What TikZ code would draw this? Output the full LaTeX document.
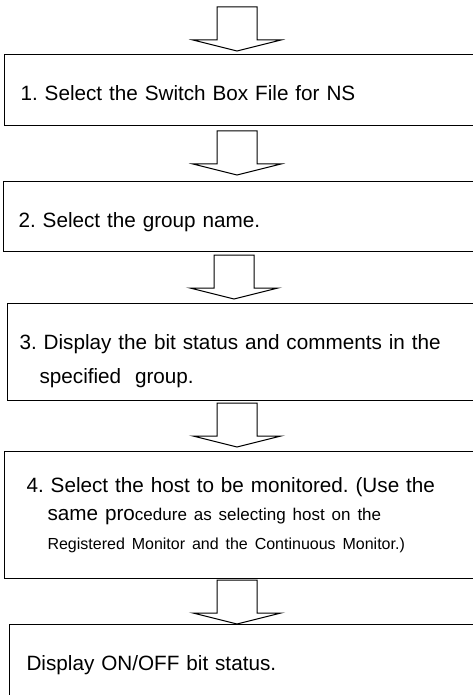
\documentclass[tikz,border=0pt]{standalone}
\usepackage{fontspec}
\setmainfont{Liberation Sans}
\usetikzlibrary{positioning}
\frenchspacing

\newcommand{\bigtxt}{\fontsize{20.7}{34.5}\selectfont}
\newcommand{\tighttxt}{\fontsize{20.7}{28.5}\selectfont}
\newcommand{\midtxt}{\fontsize{17}{28.5}\selectfont}
\newcommand{\smalltxt}{\fontsize{16}{28.5}\selectfont}

\begin{document}
\begin{tikzpicture}[
  x=1pt, y=-1pt,
  stepbox/.style={draw, line width=1.1pt, anchor=north west, inner ysep=0pt,
    text width=470pt, align=left, font=\bigtxt},
  oneline/.style={text height=21pt, text depth=0pt},
  downarrow/.pic={
    \draw[line width=1pt, line join=miter]
      (-20,0) -- (-20,33) -- (-44,33) -- (0,44) -- (44,33) -- (20,33) -- (20,0) -- cycle;
  }
]
\useasboundingbox (0,0) rectangle (473,695);

\pic at (237,7) {downarrow};
\node[stepbox, oneline, inner xsep=16pt, minimum height=71pt] (s1) at (4,54)
  {1. Select the Switch Box File for NS};

\pic at (237,131) {downarrow};
\node[stepbox, oneline, inner xsep=15pt, minimum height=70pt] (s2) at (3,181)
  {2. Select the group name.};

\pic at (234,255) {downarrow};
\node[stepbox, inner xsep=12pt, minimum height=97pt] (s3) at (7,303)
  {\rule{0pt}{33pt}3. Display the bit status and comments in the\\
   \hspace*{20pt}specified\ \ group.};

\pic at (237,403) {downarrow};
\node[stepbox, inner xsep=22pt, minimum height=127pt, font=\tighttxt] (s4) at (4,451)
  {4. Select the host to be monitored. (Use the\\
   \hspace*{21pt}same pro{\midtxt cedure as selecting host on the}\\
   \hspace*{21pt}{\smalltxt Registered Monitor and the Continuous Monitor.)}};

\pic at (237,580) {downarrow};
\node[stepbox, oneline, inner xsep=17pt, minimum height=71pt] (s5) at (9,624)
  {Display ON/OFF bit status.};
\end{tikzpicture}
\end{document}
